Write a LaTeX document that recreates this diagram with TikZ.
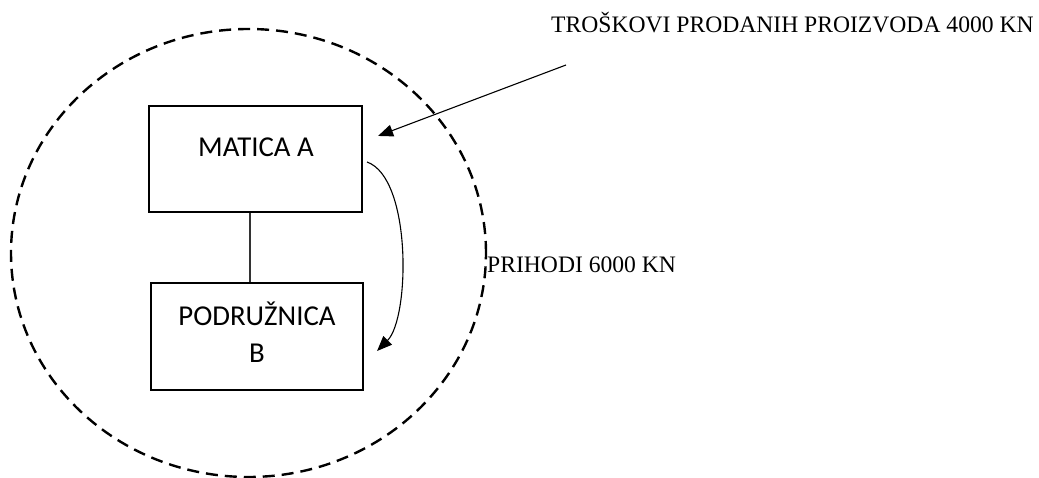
\documentclass[tikz,border=0pt]{standalone}
\usepackage{fontspec}
\setmainfont{Liberation Serif}
\newfontfamily\boxfont{Carlito}
\usetikzlibrary{arrows.meta,calc,shapes.geometric}
\tikzset{
  boxnode/.style={draw, line width=2.1pt, minimum width=213pt, minimum height=106pt, inner sep=0pt},
  boxtext/.style={font=\boxfont\fontsize{28.8}{37}\selectfont, align=center, inner sep=0pt},
  outtext/.style={font=\fontsize{23.6}{28}\selectfont, inner sep=0pt, anchor=base west},
  boundary/.style={draw, line width=2.4pt, dash pattern=on 12pt off 7pt},
  flow/.style={line width=1.1pt, -{Triangle[length=15pt,width=12pt]}},
  tie/.style={line width=1.2pt, draw=black!80}
}
\begin{document}
\begin{tikzpicture}[x=1pt,y=-1pt]
\useasboundingbox (0,0) rectangle (1039,478);
\node[boundary, ellipse, minimum width=475pt, minimum height=448pt, inner sep=0pt] (circ) at (248.5,253) {};
\node[boxnode] (A) at (255.5,159) {};
\node[boxtext] (Atext) at (256,147.5) {MATICA A};
\node[boxnode, minimum width=212pt, minimum height=107pt] (B) at (257,336.5) {};
\node[boxtext] (Btext) at (257,332) {PODRUŽNICA\\B};
\coordinate (tietop) at ($(A.south)+(-5.5,0)$);
\draw[tie] (tietop) -- (tietop |- B.north);
\node[outtext] (cost) at (551,33) {TROŠKOVI PRODANIH PROIZVODA 4000 KN};
\node[outtext] (rev) at (487,273) {PRIHODI 6000 KN};
\coordinate (costfrom) at (566,65);
\draw[flow] (costfrom) -- ($(A.north east)+(15,31)$);
\draw[flow] ($(A.east)+(4,3)$) .. controls (412,178) and (410,318) .. ($(B.east)+(13,14.5)$);
\end{tikzpicture}
\end{document}
